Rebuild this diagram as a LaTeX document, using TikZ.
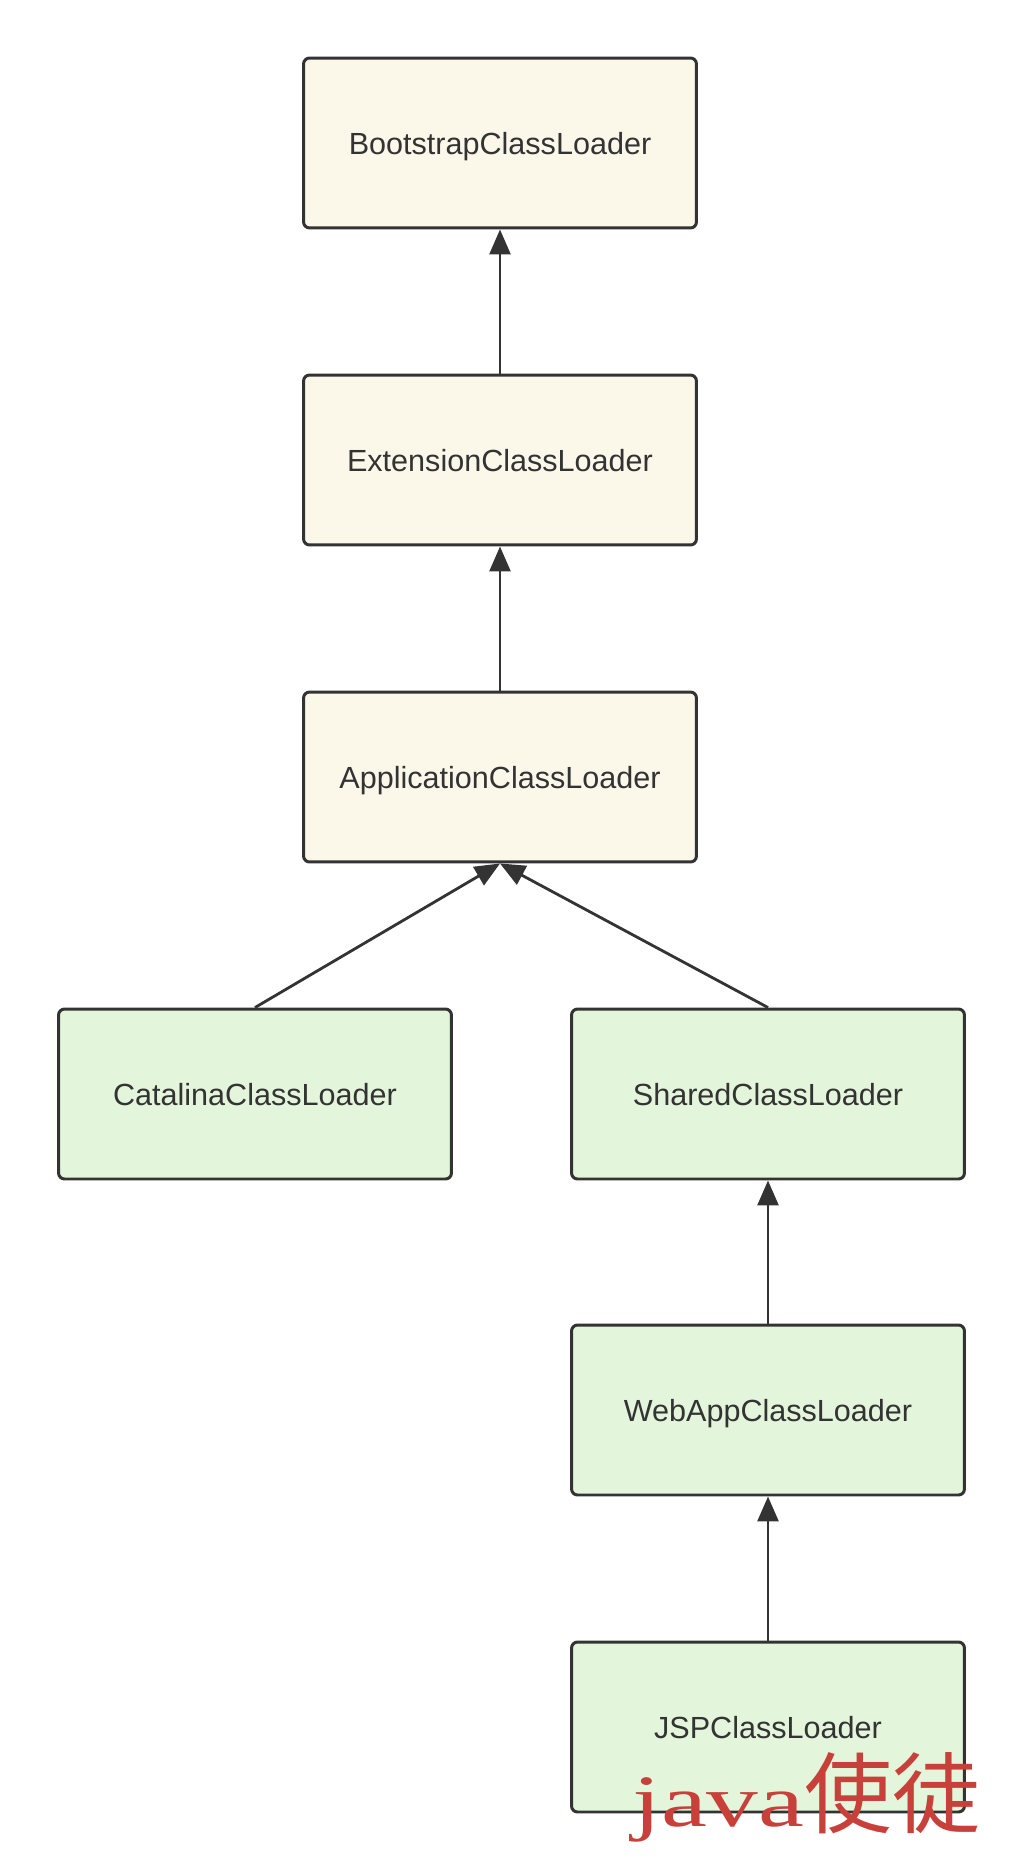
\documentclass[tikz,border=0pt]{standalone}
\usepackage{fontspec}
\setmainfont{Liberation Sans}
\newfontfamily\cjk{Noto Sans CJK SC}
\newfontfamily\wmserif[FakeStretch=1.4]{Liberation Serif}
\usetikzlibrary{arrows.meta}

\definecolor{jvmfill}{HTML}{FBF8EA}
\definecolor{tomfill}{HTML}{E3F5DA}
\definecolor{edgegray}{HTML}{333333}
\definecolor{markred}{HTML}{C8403A}

\begin{document}
\begin{tikzpicture}[
      x=0.02cm, y=-0.02cm,
      >={Triangle[length=0.5cm, width=0.42cm]},
      loader/.style={rectangle, rounded corners=0.12cm, draw=edgegray, line width=1.7pt,
        minimum width=7.86cm, minimum height=3.4cm, text=edgegray, text depth=0pt,
        font=\fontsize{17.4pt}{20pt}\selectfont},
      jvm/.style={loader, fill=jvmfill},
      tom/.style={loader, fill=tomfill},
      edge/.style={->, line width=1.6pt, draw=edgegray}
    ]
    \useasboundingbox (0,0) rectangle (1024,1872);

    \node[jvm] (boot) at (500,143) {BootstrapClassLoader};
    \node[jvm] (ext) at (500,460) {ExtensionClassLoader};
    \node[jvm] (app) at (500,777) {ApplicationClassLoader};
    \node[tom] (cat) at (255,1094) {CatalinaClassLoader};
    \node[tom] (shared) at (768,1094) {SharedClassLoader};
    \node[tom] (webapp) at (768,1410) {WebAppClassLoader};
    \node[tom] (jsp) at (768,1727) {JSPClassLoader};

    \draw[edge] (ext) -- (boot);
    \draw[edge] (app) -- (ext);
    \draw[edge] (cat.north) -- (app.south);
    \draw[edge] (shared.north) -- (app.south);
    \draw[edge] (webapp) -- (shared);
    \draw[edge] (jsp) -- (webapp);

    % watermark
    \node[anchor=base west, inner sep=0pt, text=markred] (mark) at (632,1826)
      {\fontsize{42pt}{48pt}\wmserif java\fontsize{50pt}{56pt}\cjk 使徒};
  \end{tikzpicture}
\end{document}
